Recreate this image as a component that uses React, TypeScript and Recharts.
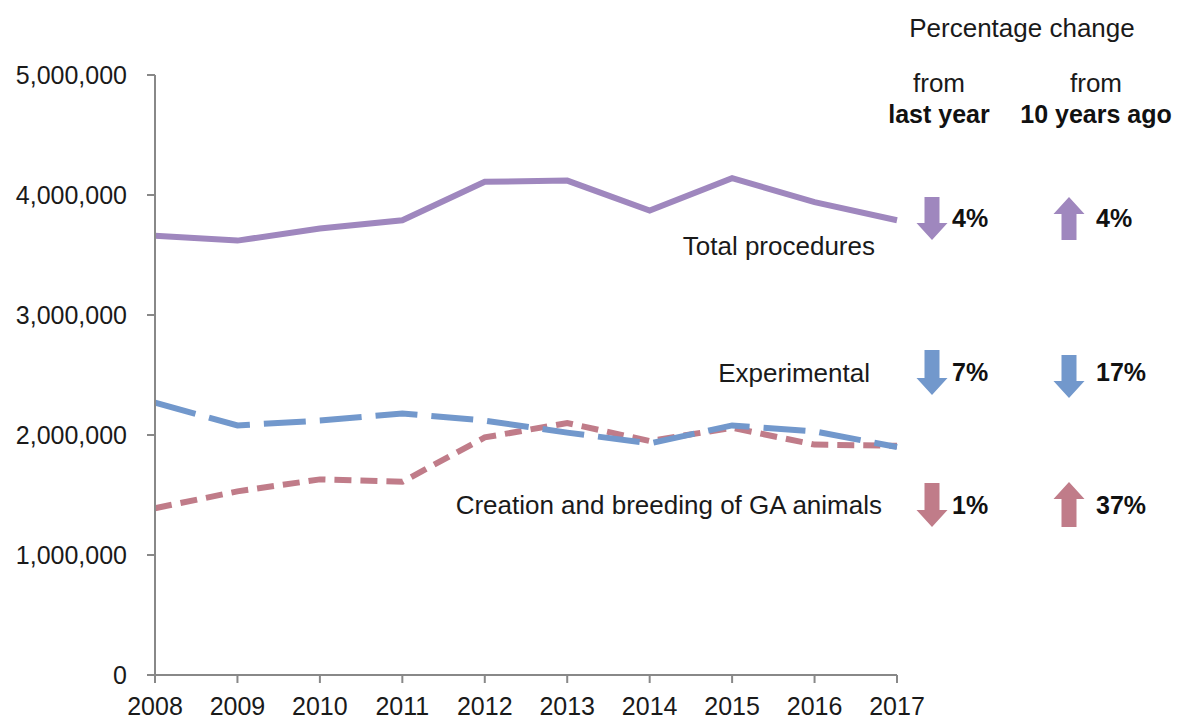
import React from "react";
import { LineChart, Line, XAxis, YAxis } from "recharts";

const years = ["2008", "2009", "2010", "2011", "2012", "2013", "2014", "2015", "2016", "2017"];
const totalProcedures = [3660000, 3620000, 3720000, 3790000, 4110000, 4120000, 3870000, 4140000, 3940000, 3790000];
const experimental = [2270000, 2080000, 2120000, 2180000, 2120000, 2020000, 1930000, 2080000, 2030000, 1900000];
const gaBreeding = [1390000, 1530000, 1630000, 1610000, 1980000, 2100000, 1950000, 2060000, 1920000, 1910000];
const yTicks = [0, 1000000, 2000000, 3000000, 4000000, 5000000];

// percentage change columns: from last year / from 10 years ago
const seriesNames = ["Total procedures", "Experimental", "Creation and breeding of GA animals"];
const lastYearChange = ["4%", "7%", "1%"];
const lastYearDir = ["down", "down", "down"];
const tenYearChange = ["4%", "17%", "37%"];
const tenYearDir = ["up", "down", "up"];

const PURPLE = "#9f87be";
const BLUE = "#7298cc";
const PINK = "#c07c89";
const AXIS = "#888888";
const FONT = "'Liberation Sans', Arial, sans-serif";

const data = years.map((year, i) => ({
  year,
  total: totalProcedures[i],
  experimental: experimental[i],
  ga: gaBreeding[i],
}));

// layout of the right hand annotation block
const rowColors = [PURPLE, BLUE, PINK];
const rowLabelY = [246, 373, 505];
const rowLabelX = [875, 870, 882];
const arrowTop = [[197, 197], [350, 355], [483, 482]];
const arrowBottom = [[240, 240], [395, 398], [527, 527]];
const pctY = [218, 372, 505];

function Arrow({ cx, top, bottom, dir, color }: { cx: number; top: number; bottom: number; dir: string; color: string }) {
  const shaft = 7.5;
  const head = 15.5;
  const headH = 17;
  let d: string;
  if (dir === "down") {
    const hs = bottom - headH;
    d = `M${cx - shaft},${top} L${cx + shaft},${top} L${cx + shaft},${hs} L${cx + head},${hs} L${cx},${bottom} L${cx - head},${hs} L${cx - shaft},${hs} Z`;
  } else {
    const hs = top + headH;
    d = `M${cx - shaft},${bottom} L${cx + shaft},${bottom} L${cx + shaft},${hs} L${cx + head},${hs} L${cx},${top} L${cx - head},${hs} L${cx - shaft},${hs} Z`;
  }
  return <path d={d} fill={color} />;
}

export default function App(): React.JSX.Element {
  const tickStyle = { fontSize: 25, fill: "#1a1a1a", fontFamily: FONT };

  return (
    <div style={{ position: "absolute", left: 0, top: 0, width: 1178, height: 720, background: "#fff" }}>
      <LineChart
        width={1178}
        height={720}
        data={data}
        margin={{ top: 75, right: 281, bottom: 5, left: 0 }}
      >
        <XAxis
          dataKey="year"
          height={40}
          tick={tickStyle}
          tickSize={8}
          tickMargin={14}
          stroke={AXIS}
          strokeWidth={2}
          interval={0}
        />
        <YAxis
          width={155}
          domain={[0, 5000000]}
          ticks={yTicks}
          tick={tickStyle}
          tickSize={8}
          tickMargin={20}
          stroke={AXIS}
          strokeWidth={2}
          tickFormatter={(v: number) => v.toLocaleString("en-US")}
        />
        <Line dataKey="ga" stroke={PINK} strokeWidth={6} strokeDasharray="17 9" dot={false} isAnimationActive={false} />
        <Line dataKey="experimental" stroke={BLUE} strokeWidth={6} strokeDasharray="42 14" dot={false} isAnimationActive={false} />
        <Line dataKey="total" stroke={PURPLE} strokeWidth={6} dot={false} isAnimationActive={false} />
      </LineChart>

      <svg
        width={1178}
        height={720}
        style={{ position: "absolute", left: 0, top: 0, pointerEvents: "none" }}
        fontFamily={FONT}
      >
        <text x={1022} y={28} textAnchor="middle" dominantBaseline="central" fontSize={26} fill="#1a1a1a">Percentage change</text>
        <text x={939} y={83} textAnchor="middle" dominantBaseline="central" fontSize={26} fill="#1a1a1a">from</text>
        <text x={939} y={114} textAnchor="middle" dominantBaseline="central" fontSize={25} fontWeight="bold" fill="#111">last year</text>
        <text x={1096} y={83} textAnchor="middle" dominantBaseline="central" fontSize={26} fill="#1a1a1a">from</text>
        <text x={1096} y={114} textAnchor="middle" dominantBaseline="central" fontSize={25} fontWeight="bold" fill="#111">10 years ago</text>

        {seriesNames.map((name, i) => (
          <g key={name}>
            <text x={rowLabelX[i]} y={rowLabelY[i]} textAnchor="end" dominantBaseline="central" fontSize={26} fill="#1a1a1a">{name}</text>
            <Arrow cx={932} top={arrowTop[i][0]} bottom={arrowBottom[i][0]} dir={lastYearDir[i]} color={rowColors[i]} />
            <text x={952} y={pctY[i]} dominantBaseline="central" fontSize={25} fontWeight="bold" fill="#111">{lastYearChange[i]}</text>
            <Arrow cx={1069} top={arrowTop[i][1]} bottom={arrowBottom[i][1]} dir={tenYearDir[i]} color={rowColors[i]} />
            <text x={1096} y={pctY[i]} dominantBaseline="central" fontSize={25} fontWeight="bold" fill="#111">{tenYearChange[i]}</text>
          </g>
        ))}
      </svg>
    </div>
  );
}
